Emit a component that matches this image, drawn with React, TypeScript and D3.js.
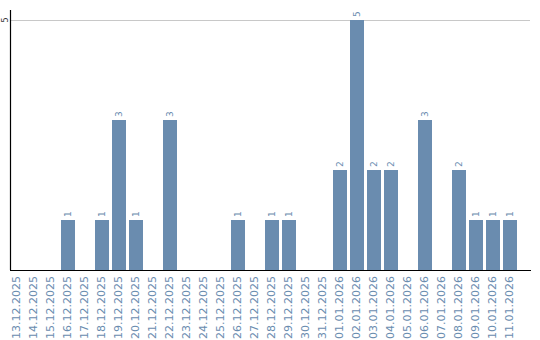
import React from "react";
import * as d3 from "d3";

const categories: string[] = [
  "13.12.2025", "14.12.2025", "15.12.2025", "16.12.2025", "17.12.2025",
  "18.12.2025", "19.12.2025", "20.12.2025", "21.12.2025", "22.12.2025",
  "23.12.2025", "24.12.2025", "25.12.2025", "26.12.2025", "27.12.2025",
  "28.12.2025", "29.12.2025", "30.12.2025", "31.12.2025", "01.01.2026",
  "02.01.2026", "03.01.2026", "04.01.2026", "05.01.2026", "06.01.2026",
  "07.01.2026", "08.01.2026", "09.01.2026", "10.01.2026", "11.01.2026",
];
const values: number[] = [
  0, 0, 0, 1, 0, 1, 3, 1, 0, 3,
  0, 0, 0, 1, 0, 1, 1, 0, 0, 2,
  5, 2, 2, 0, 3, 0, 2, 1, 1, 1,
];
const yTicks: number[] = [5];

const W = 540;
const H = 340;
const FONT = "'DejaVu Sans', Verdana, sans-serif";
const BAR = "#6a8caf";

export default function App() {
  const x = d3
    .scaleBand<string>()
    .domain(categories)
    .range([10, 517])
    .paddingInner(3 / 17)
    .paddingOuter(0);
  const y = d3.scaleLinear().domain([0, 5]).range([270, 20]);
  const bw = x.bandwidth();

  return (
    <svg
      width={W}
      height={H}
      style={{ position: "absolute", left: 0, top: 0, display: "block" }}
    >
      <rect x={0} y={0} width={W} height={H} fill="#fff" />
      {yTicks.map((t) => (
        <g key={t}>
          <line x1={11} x2={530} y1={y(t) + 0.5} y2={y(t) + 0.5} stroke="#c8c8c8" strokeWidth={1} />
          <text
            transform={`translate(7.5,${y(t)}) rotate(-90)`}
            textAnchor="middle"
            fontFamily={FONT}
            fontSize={8}
            fill="#333"
          >
            {t}
          </text>
        </g>
      ))}
      {values.map((v, i) =>
        v > 0 ? (
          <g key={categories[i]}>
            <rect
              x={x(categories[i])}
              y={y(v)}
              width={bw}
              height={y(0) - y(v)}
              fill={BAR}
            />
            <text
              transform={`translate(${(x(categories[i]) as number) + bw / 2 + 3},${y(v) - 3}) rotate(-90)`}
              textAnchor="start"
              fontFamily={FONT}
              fontSize={9}
              fill={BAR}
            >
              {v}
            </text>
          </g>
        ) : null
      )}
      <line x1={10.5} x2={10.5} y1={10} y2={270} stroke="#000" strokeWidth={1.2} />
      <line x1={10} x2={531} y1={270.5} y2={270.5} stroke="#000" strokeWidth={1.2} />
      {categories.map((c) => (
        <text
          key={c}
          transform={`translate(${(x(c) as number) + bw / 2 + 3},276) rotate(-90)`}
          textAnchor="end"
          fontFamily={FONT}
          fontSize={11}
          fill={BAR}
        >
          {c}
        </text>
      ))}
    </svg>
  );
}
